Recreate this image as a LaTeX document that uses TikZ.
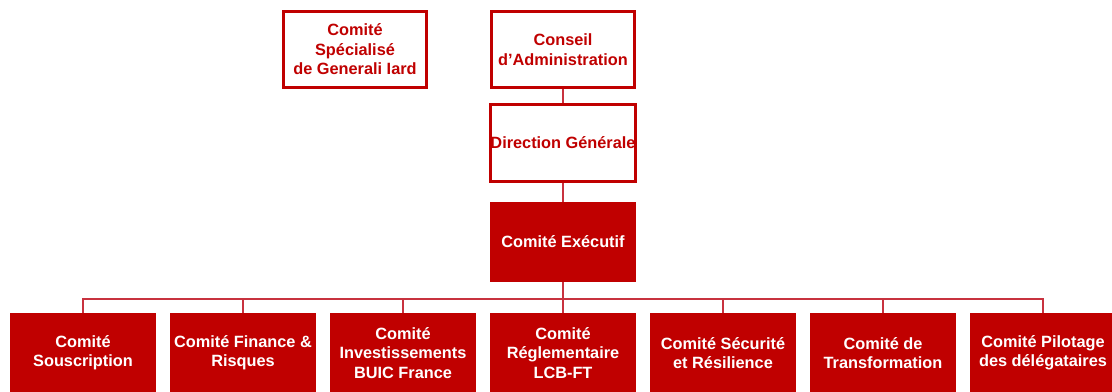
\documentclass[tikz,border=0pt]{standalone}
\usepackage{fontspec}
\setmainfont{Liberation Sans}
\usetikzlibrary{positioning}
\definecolor{gred}{HTML}{C00000}
\definecolor{lred}{HTML}{C8323F}

\tikzset{
  boite/.style={minimum width=3.65cm, minimum height=2cm, inner sep=0pt, align=center,
    font=\fontsize{11.6}{13.8}\selectfont\bfseries},
  vide/.style={boite, draw=gred, line width=2.1pt, fill=white, text=gred,
    minimum width=3.57cm, minimum height=1.92cm},
  plein/.style={boite, fill=gred, text=white},
  lien/.style={draw=lred, line width=0.9pt}
}

\begin{document}
\begin{tikzpicture}[x=0.025cm, y=-0.025cm]
\useasboundingbox (0,0) rectangle (1112,392);

\node[vide] (special) at (355,49.5) {Comité\\Spécialisé\\de Generali Iard};
\node[vide] (conseil) at (563,49.5) {Conseil\\d’Administration};
\node[vide] (direction) at (563,143) {Direction Générale};
\node[plein] (comex) at (563,242) {Comité Exécutif};
\coordinate (bus) at (563,299);

\draw[lien] (conseil) -- (direction);
\draw[lien] (direction) -- (comex);
\draw[lien] (comex) -- (bus);

\foreach \n/\x/\t in {1/83/{Comité\\Souscription},
    2/243/{Comité Finance \&\\Risques},
    3/403/{Comité\\Investissements\\BUIC France},
    4/563/{Comité\\Réglementaire\\LCB-FT},
    5/723/{Comité Sécurité\\et Résilience},
    6/883/{Comité de\\Transformation},
    7/1043/{Comité Pilotage\\des délégataires}}
{
    \node[plein] (c\n) at (\x,353) {\t};
    \draw[lien] (bus) -| (c\n.north);
}
%
\end{tikzpicture}
\end{document}
